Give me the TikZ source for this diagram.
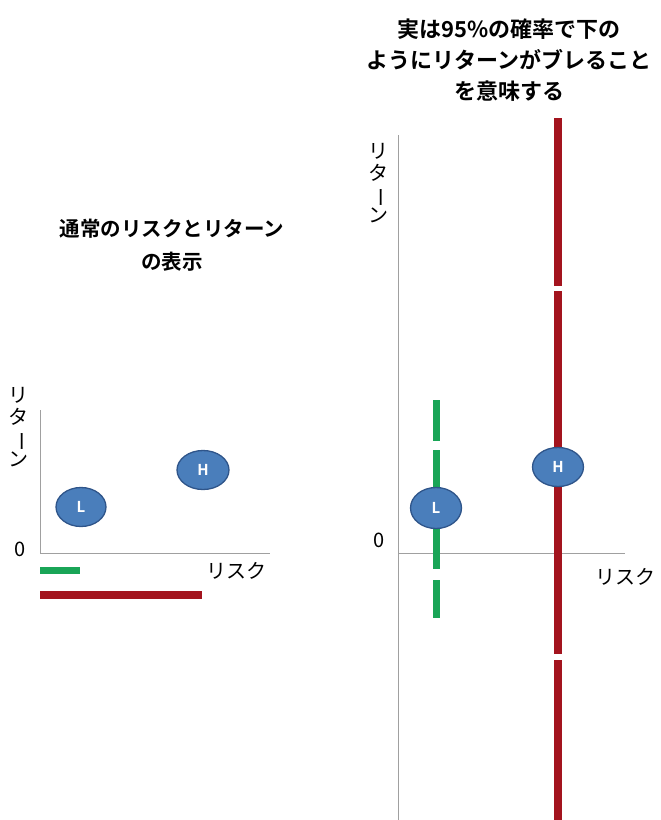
\documentclass[tikz,border=0pt]{standalone}
\usepackage{fontspec}
\usepackage{graphicx}
\usetikzlibrary{shapes.geometric}
\newfontfamily\jpb{Noto Sans CJK JP Bold}
\newfontfamily\jp{Noto Sans CJK JP}
\definecolor{ballfill}{HTML}{4A7EBB}
\definecolor{balledge}{HTML}{2F558A}
\definecolor{grn}{HTML}{19A557}
\definecolor{rd}{HTML}{A3141E}
\definecolor{axis}{HTML}{A0A0A0}
\newcommand{\vret}{\begin{tabular}{@{}c@{}}リ\\[-1pt]タ\\[-1pt]\rotatebox[origin=c]{-90}{ー}\\[-1pt]ン\end{tabular}}
\begin{document}
\begin{tikzpicture}[x=1pt,y=-1pt,
  ball/.style={ellipse,fill=ballfill,draw=balledge,line width=1.3pt,inner sep=0pt,text=white,font=\jpb\fontsize{15}{15}\selectfont},
  axisline/.style={draw=axis,line width=0.8pt},
  title/.style={align=center},
  lbl/.style={font=\jp\fontsize{20}{20}\selectfont},
  vlbl/.style={font=\jp\fontsize{20}{22}\selectfont,inner sep=0pt},
  gbar/.style={draw=grn,line width=7pt},
  rbar/.style={draw=rd,line width=8pt}]
\useasboundingbox (0,0) rectangle (661,820);
% left chart
\node[title,font=\jpb\fontsize{20.5}{33}\selectfont] (t1) at (172,245) {通常のリスクとリターン\\の表示};
\coordinate (lo) at (40,553);
\coordinate (ltop) at (40,410);
\coordinate (lright) at (270,553);
\draw[axisline] (ltop) -- (lo) -- (lright);
\node[vlbl] (lret) at (19,430) {\vret};
\node[lbl] (l0) at (20,549) {0};
\node[lbl] (lrisk) at (236,571) {リスク};
\node[ball,minimum width=50pt,minimum height=39pt] (lL) at (81,507) {L};
\node[ball,minimum width=52pt,minimum height=39pt] (lH) at (203,470) {H};
\coordinate (g1) at (40,570); \coordinate (g2) at (80,570);
\draw[gbar] (g1) -- (g2);
\coordinate (r1) at (40,595); \coordinate (r2) at (202,595);
\draw[rbar] (r1) -- (r2);
% right chart
\node[title,font=\jpb\fontsize{22}{31}\selectfont] (t2) at (509,60) {実は95\%の確率で下の\\ようにリターンがブレること\\を意味する};
\coordinate (ro) at (398,553);
\coordinate (rtop) at (398,135);
\coordinate (rbot) at (398,820);
\coordinate (rright) at (625,553);
\draw[axisline] (rtop) -- (rbot);
\draw[axisline] (ro) -- (rright);
\node[vlbl] (rret) at (378,186) {\vret};
\node[lbl] (r0) at (379,540) {0};
\node[lbl] (rrisk) at (625,577) {リスク};
% red line with gaps
\coordinate (ra) at (558,118); \coordinate (rb) at (558,286);
\coordinate (rc) at (558,291); \coordinate (rd1) at (558,654);
\coordinate (re) at (558,660); \coordinate (rf) at (558,820);
\draw[rbar] (ra) -- (rb) (rc) -- (rd1) (re) -- (rf);
% green dashed
\coordinate (ga) at (436,400); \coordinate (gb) at (436,441);
\coordinate (gc) at (436,450); \coordinate (gd) at (436,569);
\coordinate (ge) at (436,580); \coordinate (gf) at (436,618);
\draw[gbar] (ga) -- (gb) (gc) -- (gd) (ge) -- (gf);
\node[ball,minimum width=51pt,minimum height=41pt] (rL) at (436,508) {L};
\node[ball,minimum width=51pt,minimum height=39pt] (rH) at (558,467) {H};
\end{tikzpicture}
\end{document}
